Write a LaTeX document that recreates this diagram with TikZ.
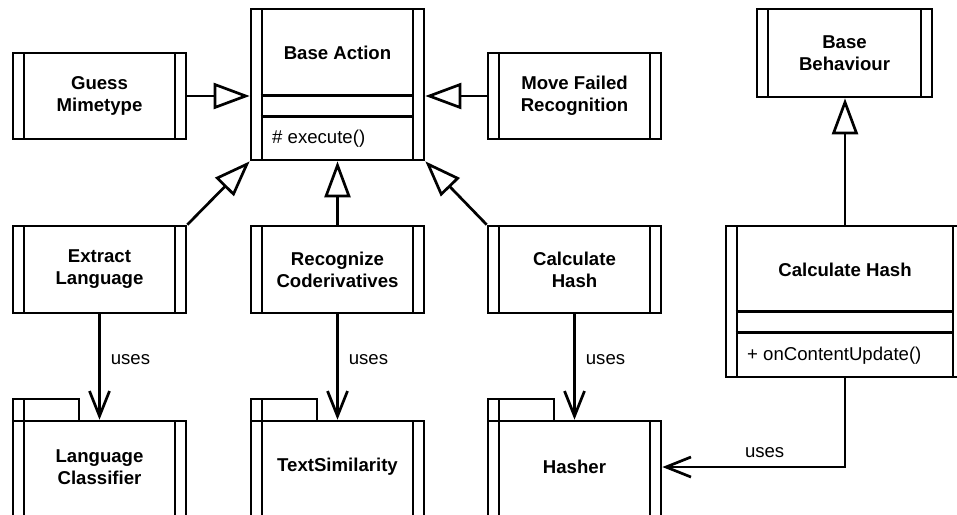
\documentclass[tikz,border=0pt]{standalone}
\usepackage{fontspec}
\setmainfont{Liberation Sans}
\usetikzlibrary{arrows.meta}
\newcommand\umlfont{\fontsize{18.6pt}{22pt}\selectfont}

\begin{document}
\begin{tikzpicture}[x=1pt,y=-1pt,
  umlline/.style={line width=2.7pt},
  classbox/.style={draw, umlline, inner sep=0pt, align=center, font=\umlfont\bfseries,
    path picture={
      \draw[line width=2.7pt]
        ([xshift=11pt]path picture bounding box.north west) -- ([xshift=11pt]path picture bounding box.south west)
        ([xshift=-11pt]path picture bounding box.north east) -- ([xshift=-11pt]path picture bounding box.south east);
    }},
  pkgbox/.style={classbox, minimum width=173pt, minimum height=110pt},
  titletext/.style={inner sep=0pt, align=center, font=\umlfont\bfseries},
  member/.style={inner sep=0pt, anchor=west, font=\umlfont},
  inherit/.style={umlline, -{Triangle[open, length=36pt, width=26pt]}},
  uses/.style={umlline, -{Straight Barb[length=25pt, width=20pt]}},
  uselabel/.style={inner sep=0pt, font=\umlfont},
]
\useasboundingbox[fill=white] (0,0) rectangle (957,514);

% abstract base classes
\node[classbox, minimum width=173pt, minimum height=151pt] (ba) at (337.5,84.5) {};
\node[titletext] (batitle) at (337.5,53) {Base Action};
\draw[umlline] ([xshift=11pt,yshift=-88pt]ba.north west) -- ([xshift=-11pt,yshift=-88pt]ba.north east);
\draw[umlline] ([xshift=11pt,yshift=-109pt]ba.north west) -- ([xshift=-11pt,yshift=-109pt]ba.north east);
\node[member] (baop) at (272,139) {\# execute()};

\node[classbox, minimum width=175pt, minimum height=88pt] (bb) at (844.5,53) {Base\\Behaviour};

% concrete actions
\node[classbox, minimum width=173pt, minimum height=86pt] (gm) at (99.5,96) {Guess\\Mimetype};
\node[classbox, minimum width=173pt, minimum height=86pt] (mf) at (574.5,96) {Move Failed\\Recognition};
\node[classbox, minimum width=173pt, minimum height=87pt] (el) at (99.5,269.5) {Extract\\Language};
\node[classbox, minimum width=173pt, minimum height=87pt] (rc) at (337.5,269.5) {Recognize\\Coderivatives};
\node[classbox, minimum width=173pt, minimum height=87pt] (ch) at (574.5,269.5) {Calculate\\Hash};

% behaviour class
\node[classbox, minimum width=238pt, minimum height=151pt] (chr) at (845,301.5) {};
\node[titletext] (chrtitle) at (845,269.5) {Calculate Hash};
\draw[umlline] ([xshift=11pt,yshift=-87pt]chr.north west) -- ([xshift=-11pt,yshift=-87pt]chr.north east);
\draw[umlline] ([xshift=11pt,yshift=-108pt]chr.north west) -- ([xshift=-11pt,yshift=-108pt]chr.north east);
\node[member] (chrop) at (747,356) {+ onContentUpdate()};

% packages: body, tab on top-left, left bar carried up through the tab
\foreach \name/\cx/\txt in {lc/99.5/{Language\\Classifier}, ts/337.5/{TextSimilarity}, hs/574.5/{Hasher}} {
  \node[pkgbox] (\name) at (\cx,476) {};
  \node[titletext] (\name text) at (\cx,467) {\txt};
  \draw[umlline, line join=miter]
    ([xshift=1.35pt,yshift=-1.35pt]\name.north west) -- ++(0,-22) -- ++(66,0) -- ++(0,22);
  \draw[umlline] ([xshift=12.35pt,yshift=-1.35pt]\name.north west) -- ++(0,-22);
}

% generalisations
\draw[inherit] (gm.east) -- (gm.east -| ba.west);
\draw[inherit] (mf.west) -- (mf.west -| ba.east);
\draw[inherit] (el.north east) -- (ba.south west);
\draw[inherit] (rc.north) -- (ba.south);
\draw[inherit] (ch.north west) -- (ba.south east);
\draw[inherit] (chr.north) -- (chr.north |- bb.south);

% dependencies
\draw[uses] (el.south) -- node[uselabel, pos=0.43, right=10pt] {uses} (lc.north);
\draw[uses] (rc.south) -- node[uselabel, pos=0.43, right=10pt] {uses} (ts.north);
\draw[uses] (ch.south) -- node[uselabel, pos=0.43, right=10pt] {uses} (hs.north);
\draw[uses] (chr.south) |- node[uselabel, pos=0.72, above=8pt] {uses} ([yshift=9pt]hs.east);
\end{tikzpicture}
\end{document}
